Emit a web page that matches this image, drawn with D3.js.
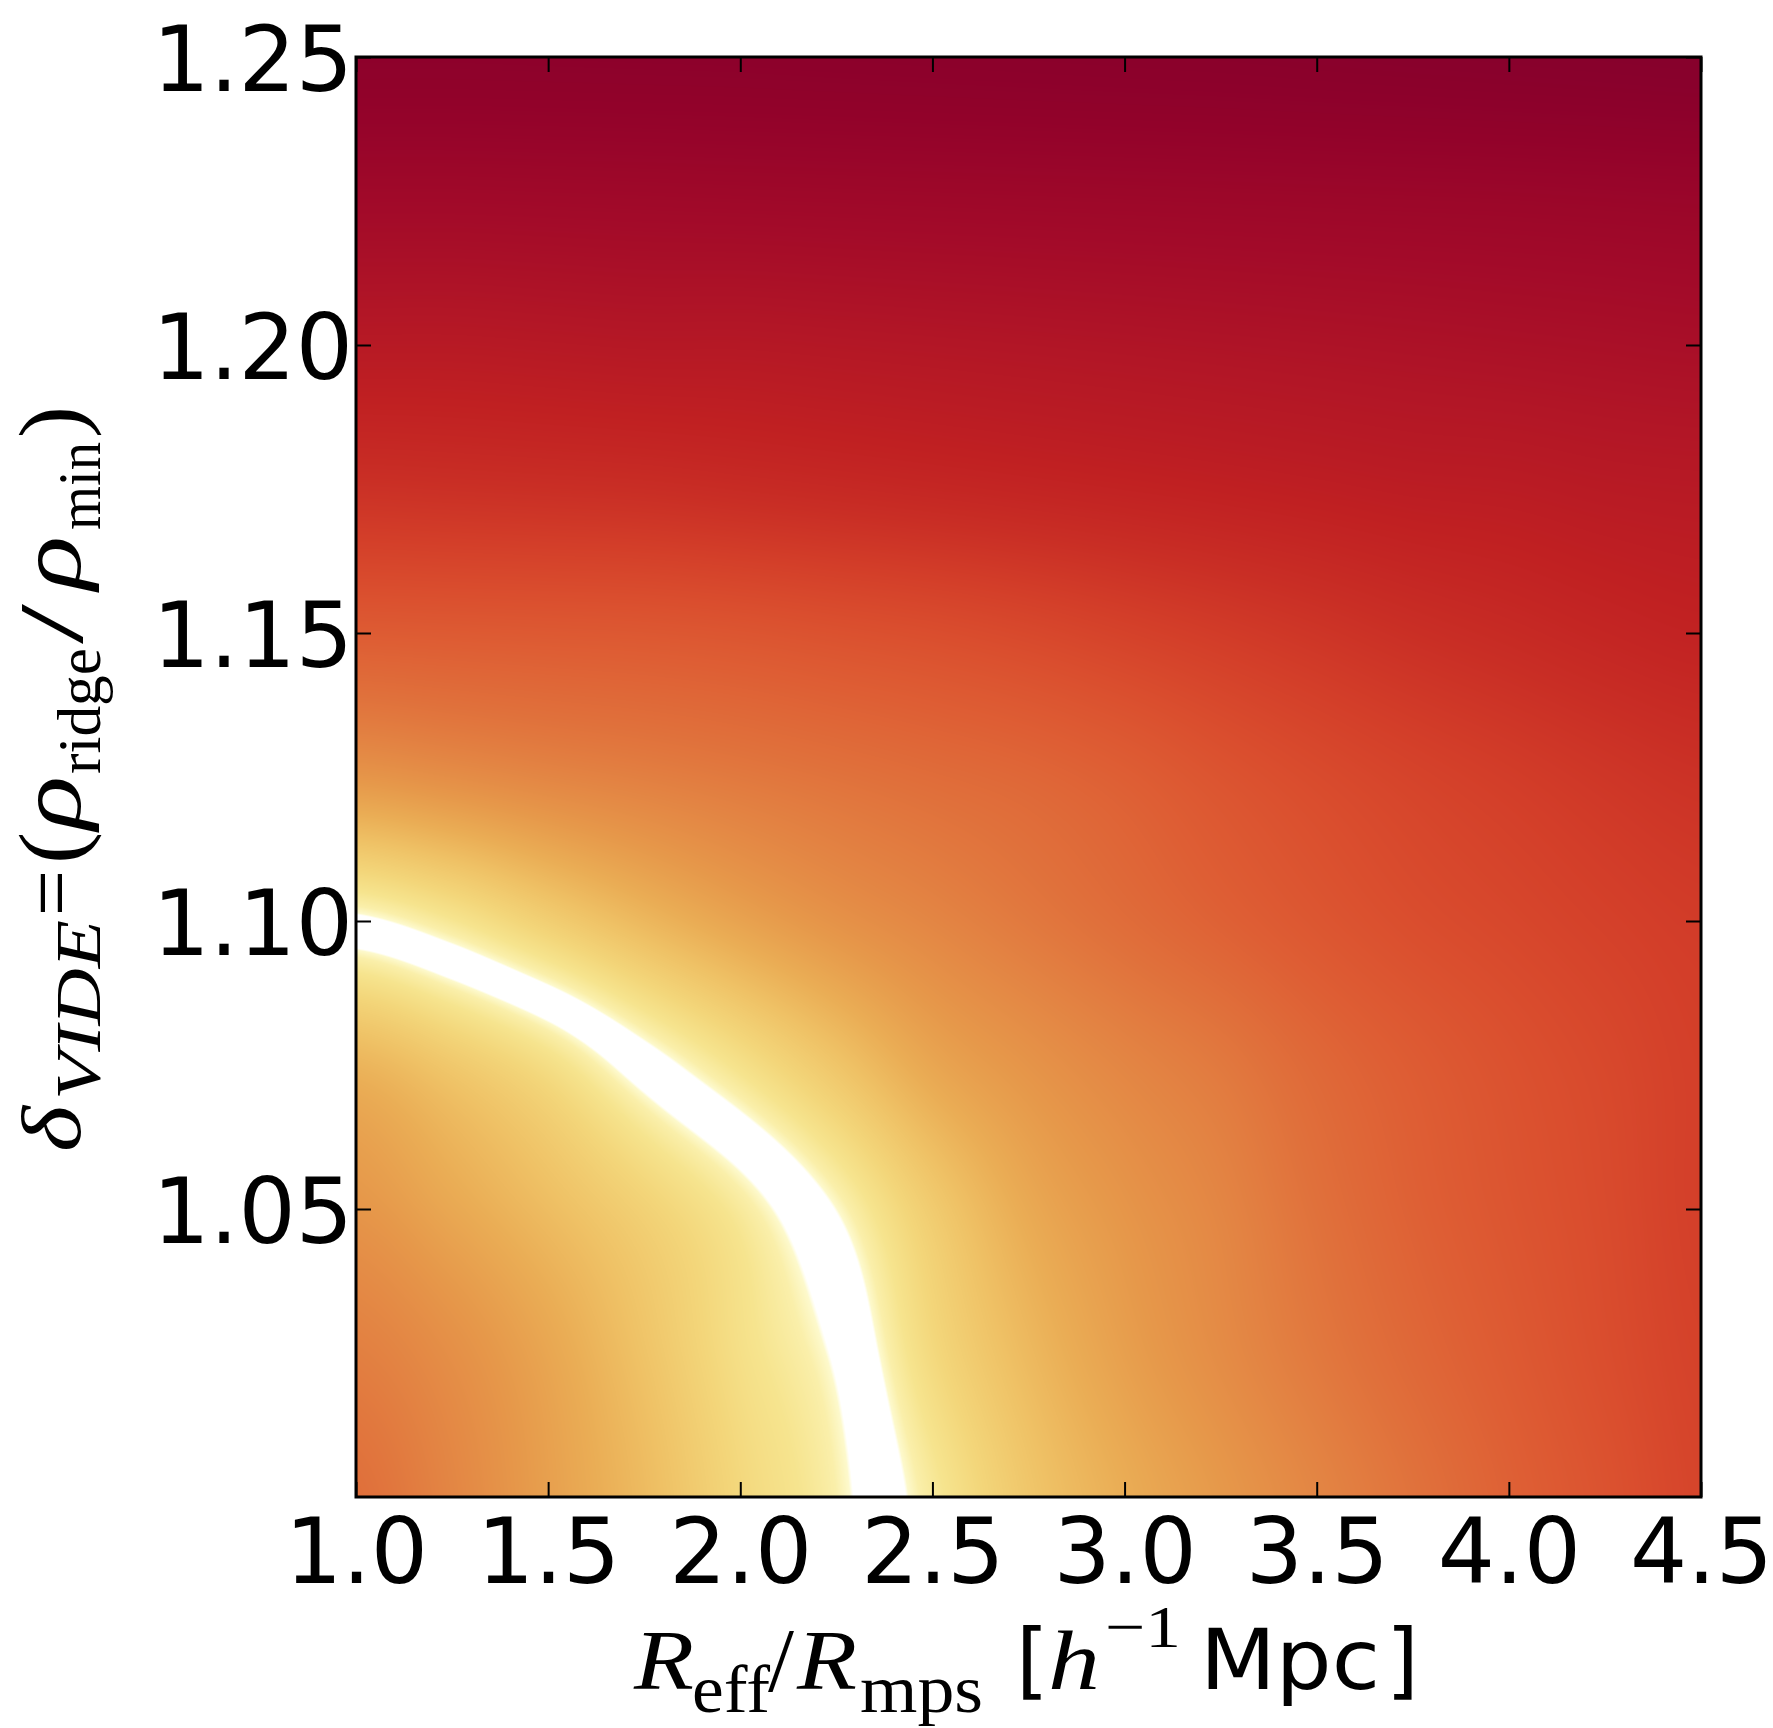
<!DOCTYPE html>
<html>
<head>
<meta charset="utf-8">
<script src="https://cdn.jsdelivr.net/npm/d3@7"></script>
<style>
  body { margin: 0; background: #fff; }
  svg text { white-space: pre; }
</style>
</head>
<body>
<svg id="chart" width="1773" height="1728"></svg>
<script>
// ---- data ----
const xTicks = [1.0, 1.5, 2.0, 2.5, 3.0, 3.5, 4.0, 4.5];
const yTicks = [1.05, 1.10, 1.15, 1.20, 1.25];

// grid on which the colour field was read
const gridX = [1.00, 1.25, 1.50, 1.75, 2.00, 2.25, 2.50, 2.75, 3.00, 3.25, 3.50, 3.75, 4.00, 4.25, 4.50];
const gridY = [1.000, 1.025, 1.050, 1.075, 1.100, 1.125, 1.150, 1.175, 1.200, 1.225, 1.250];

// signed level (0 on the white ridge, negative below-left of it), one row per gridY
const fieldRows = [
  [-0.44, -0.37, -0.29, -0.21, -0.12, -0.05, 0.065, 0.175, 0.25, 0.31, 0.37, 0.43, 0.49, 0.545, 0.60],
  [-0.39, -0.34, -0.27, -0.185, -0.095, -0.025, 0.115, 0.215, 0.29, 0.35, 0.41, 0.465, 0.515, 0.565, 0.61],
  [-0.32, -0.265, -0.205, -0.14, -0.065, 0.035, 0.16, 0.26, 0.32, 0.37, 0.435, 0.49, 0.535, 0.575, 0.62],
  [-0.23, -0.17, -0.10, 0.0, 0.09, 0.18, 0.27, 0.325, 0.37, 0.41, 0.465, 0.51, 0.55, 0.585, 0.62],
  [0.02, 0.075, 0.15, 0.22, 0.28, 0.33, 0.37, 0.41, 0.45, 0.49, 0.53, 0.565, 0.59, 0.615, 0.635],
  [0.32, 0.345, 0.37, 0.39, 0.41, 0.43, 0.45, 0.47, 0.50, 0.54, 0.575, 0.605, 0.63, 0.655, 0.675],
  [0.51, 0.515, 0.52, 0.525, 0.535, 0.55, 0.565, 0.585, 0.61, 0.635, 0.66, 0.685, 0.705, 0.725, 0.74],
  [0.675, 0.68, 0.685, 0.69, 0.70, 0.71, 0.72, 0.73, 0.74, 0.75, 0.76, 0.77, 0.775, 0.785, 0.79],
  [0.79, 0.79, 0.795, 0.80, 0.80, 0.805, 0.81, 0.815, 0.82, 0.825, 0.83, 0.835, 0.84, 0.845, 0.85],
  [0.88, 0.88, 0.882, 0.884, 0.886, 0.888, 0.89, 0.892, 0.894, 0.896, 0.898, 0.90, 0.902, 0.905, 0.908],
  [0.955, 0.955, 0.956, 0.957, 0.958, 0.96, 0.962, 0.964, 0.966, 0.968, 0.971, 0.974, 0.977, 0.98, 0.983]
];

// colour map for |level|
const paletteStops = [0, 0.032, 0.05, 0.08, 0.125, 0.19, 0.25, 0.3125, 0.375, 0.4375, 0.5, 0.5625, 0.625, 0.6875, 0.75, 0.8125, 0.875, 0.9375, 1.0];
const paletteColors = ["#ffffff", "#fefcd6", "#faefaa", "#f6e48e", "#f3d67a", "#efc266", "#eaad55", "#e6984a", "#e38443",
  "#e0703b", "#de5e34", "#da4e2e", "#d33e29", "#c92e25", "#c02022", "#b21626", "#a20a29", "#92022a", "#82002d"];
const ridgeLevel = 0.032;  // |level| below this is drawn white

// ---- scales ----
const svg = d3.select("#chart");
const x = d3.scaleLinear().domain([1.0, 4.5]).range([356, 1701]);
const y = d3.scaleLinear().domain([1.0, 1.25]).range([1497, 57]);
const colour = d3.scaleLinear().domain(paletteStops).range(paletteColors)
  .interpolate(d3.interpolateRgb).clamp(true);

const gx = d3.scaleLinear().domain(d3.extent(gridX)).range([0, gridX.length - 1]);
const gy = d3.scaleLinear().domain(d3.extent(gridY)).range([0, gridY.length - 1]);

function catmull(p0, p1, p2, p3, t) {
  return 0.5 * (2 * p1 + (-p0 + p2) * t + (2 * p0 - 5 * p1 + 4 * p2 - p3) * t * t + (-p0 + 3 * p1 - 3 * p2 + p3) * t * t * t);
}

function fieldAt(fx, fy) {
  const nx = gridX.length, ny = gridY.length;
  const i = Math.min(Math.max(Math.floor(fx), 0), nx - 2), tx = fx - i;
  const j = Math.min(Math.max(Math.floor(fy), 0), ny - 2), ty = fy - j;
  const col = k => Math.min(Math.max(k, 0), nx - 1);
  const row = k => Math.min(Math.max(k, 0), ny - 1);
  const r = [];
  for (let m = -1; m <= 2; m++) {
    const R = fieldRows[row(j + m)];
    r.push(catmull(R[col(i - 1)], R[col(i)], R[col(i + 1)], R[col(i + 2)], tx));
  }
  return catmull(r[0], r[1], r[2], r[3], ty);
}

// ---- colour field on a canvas ----
const px0 = x.range()[0], px1 = x.range()[1];
const py0 = y.range()[1], py1 = y.range()[0];
const cw = Math.round(px1 - px0), ch = Math.round(py1 - py0);

const lutN = 2048;
const lut = d3.range(lutN).map(k => d3.rgb(colour(k / (lutN - 1))));

const canvas = document.createElement("canvas");
canvas.width = cw;
canvas.height = ch;
const ctx = canvas.getContext("2d");
const img = ctx.createImageData(cw, ch);
const fxs = d3.range(cw).map(c => gx(x.invert(px0 + c + 0.5)));
for (let r = 0; r < ch; r++) {
  const fy = gy(y.invert(py0 + r + 0.5));
  for (let c = 0; c < cw; c++) {
    const v = Math.abs(fieldAt(fxs[c], fy));
    const o = (r * cw + c) * 4;
    if (v < ridgeLevel) {
      img.data[o] = 255; img.data[o + 1] = 255; img.data[o + 2] = 255;
    } else {
      const col = lut[Math.min(lutN - 1, Math.round(v * (lutN - 1)))];
      const a = Math.min(1, (v - ridgeLevel) / 0.004);
      img.data[o] = 255 + (col.r - 255) * a;
      img.data[o + 1] = 255 + (col.g - 255) * a;
      img.data[o + 2] = 255 + (col.b - 255) * a;
    }
    img.data[o + 3] = 255;
  }
}
ctx.putImageData(img, 0, 0);

svg.append("image")
  .attr("x", px0).attr("y", py0)
  .attr("width", cw).attr("height", ch)
  .attr("preserveAspectRatio", "none")
  .attr("href", canvas.toDataURL());

// ---- axes ----
function styleAxis(g) {
  g.select(".domain").remove();
  g.attr("font-family", "DejaVu Sans").attr("font-size", 90);
  g.selectAll(".tick line").attr("stroke", "#000").attr("stroke-width", 2);
  g.selectAll(".tick text").attr("fill", "#000");
}

svg.append("g")
  .attr("transform", `translate(0,${py1})`)
  .call(d3.axisBottom(x).tickValues(xTicks).tickSizeInner(-15).tickSizeOuter(0)
    .tickPadding(22).tickFormat(d3.format(".1f")))
  .call(styleAxis);

svg.append("g")
  .attr("transform", `translate(${px0},0)`)
  .call(d3.axisLeft(y).tickValues(yTicks).tickSizeInner(-15).tickSizeOuter(0)
    .tickPadding(3).tickFormat(d3.format(".2f")))
  .call(styleAxis)
  .call(g => g.selectAll(".tick text").attr("dy", "0.37em"));

svg.append("g")
  .attr("transform", `translate(0,${py0})`)
  .call(d3.axisTop(x).tickValues(xTicks).tickSizeInner(-15).tickSizeOuter(0).tickFormat(""))
  .call(styleAxis);

svg.append("g")
  .attr("transform", `translate(${px1},0)`)
  .call(d3.axisRight(y).tickValues(yTicks).tickSizeInner(-15).tickSizeOuter(0).tickFormat(""))
  .call(styleAxis);

svg.append("rect")
  .attr("x", px0).attr("y", py0).attr("width", cw).attr("height", ch)
  .attr("fill", "none").attr("stroke", "#000").attr("stroke-width", 3);

// ---- axis labels (math parts in a serif face) ----
const serif = "Liberation Serif", sans = "DejaVu Sans";

function labelPiece(sel) {
  sel.attr("font-size", d => d.size)
    .attr("font-style", d => d.italic ? "italic" : "normal")
    .attr("fill", "#000")
    .each(function(d) {
      if (d.len) d3.select(this).attr("textLength", d.len).attr("lengthAdjust", "spacingAndGlyphs");
    })
    .text(d => d.s);
}

const xLabelParts = [
  { s: "R", at: 634, size: 84, font: serif, italic: true, shift: 0, len: 60 },
  { s: "eff", at: 692, size: 68, font: serif, shift: 23, len: 78 },
  { s: "/", at: 768, size: 90, font: serif, shift: 2, len: 26 },
  { s: "R", at: 797, size: 84, font: serif, italic: true, shift: 0, len: 60 },
  { s: "mps", at: 860, size: 68, font: serif, shift: 23, len: 123 },
  { s: "[", at: 1016, size: 84, font: sans, shift: 0 },
  { s: "h", at: 1048, size: 84, font: serif, italic: true, shift: 0, len: 52 },
  { s: "\u22121", at: 1105, size: 60, font: serif, shift: -42, len: 76 },
  { s: "Mpc", at: 1200, size: 84, font: sans, shift: 0, len: 180 },
  { s: "]", at: 1386, size: 84, font: sans, shift: 0 }
];

const xBase = 1689;
svg.append("g").selectAll("text").data(xLabelParts).join("text")
  .attr("x", d => d.at)
  .attr("y", d => xBase + d.shift)
  .attr("font-family", d => d.font)
  .call(labelPiece);

// y label: positions are screen y of each piece's lower end
const yLabelParts = [
  { s: "\u03b4", at: 1152, size: 84, italic: true, shift: 0, len: 46 },
  { s: "VIDE", at: 1100, size: 64, italic: true, shift: 20, len: 180 },
  { s: "=", at: 916, size: 84, shift: 0, len: 46 },
  { s: "(", at: 864, size: 90, shift: 2, len: 32 },
  { s: "\u03c1", at: 830, size: 88, italic: true, shift: 0, len: 54 },
  { s: "ridge", at: 774, size: 62, shift: 20, len: 126 },
  { s: "/", at: 644, size: 90, shift: 2, len: 40 },
  { s: "\u03c1", at: 590, size: 88, italic: true, shift: 0, len: 54 },
  { s: "min", at: 530, size: 62, shift: 20, len: 88 },
  { s: ")", at: 438, size: 90, shift: 2, len: 32 }
];

const yBase = 80;
svg.append("g")
  .attr("transform", `translate(${yBase},0) rotate(-90)`)
  .selectAll("text").data(yLabelParts).join("text")
  .attr("x", d => -d.at)
  .attr("y", d => d.shift)
  .attr("font-family", serif)
  .call(labelPiece);
</script>
</body>
</html>
